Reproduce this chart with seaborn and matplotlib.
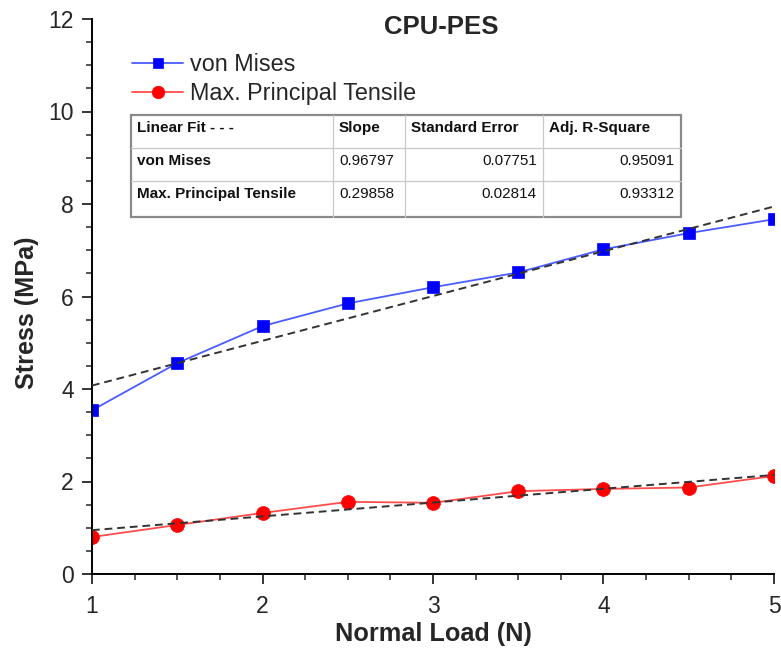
import numpy as np
import pandas as pd
import matplotlib
matplotlib.use("Agg")
import matplotlib.pyplot as plt
from matplotlib.ticker import MultipleLocator
from matplotlib.patches import Rectangle
import seaborn as sns

# Normal load (N) and measured stresses (MPa)
load = [1.0, 1.5, 2.0, 2.5, 3.0, 3.5, 4.0, 4.5, 5.0]
von_mises = [3.54, 4.56, 5.36, 5.85, 6.20, 6.52, 7.02, 7.37, 7.67]
max_principal = [0.80, 1.06, 1.32, 1.56, 1.54, 1.79, 1.84, 1.87, 2.12]

# Linear fit summary
fit_header = ["Linear Fit - - -", "Slope", "Standard Error", "Adj. R-Square"]
fit_names = ["von Mises", "Max. Principal Tensile"]
fit_slope = [0.96797, 0.29858]
fit_stderr = [0.07751, 0.02814]
fit_r2 = [0.95091, 0.93312]

sns.set_style("ticks")
plt.rcParams["font.family"] = ["Liberation Sans", "DejaVu Sans"]

fig = plt.figure(figsize=(7.81, 6.48), dpi=100)
ax = fig.add_axes([92 / 781, 74 / 648, 682 / 781, 555 / 648])

df = pd.DataFrame({"load": load, "vm": von_mises, "mp": max_principal})

sns.lineplot(data=df, x="load", y="vm", ax=ax, color="#4a5cff", lw=1.3,
             marker="s", markersize=8.5, markerfacecolor="#0000ff",
             markeredgecolor="#0000ff", markeredgewidth=0.5, label="von Mises")
sns.lineplot(data=df, x="load", y="mp", ax=ax, color="#ff4d4d", lw=1.3,
             marker="o", markersize=10, markerfacecolor="#ff0000",
             markeredgecolor="#ff0000", markeredgewidth=0.5,
             label="Max. Principal Tensile")

# Fitted lines drawn from the tabulated slopes through the data centroid
xs = np.array([1.0, 5.0])
x_arr = np.array(load)
for ys, slope in zip([von_mises, max_principal], fit_slope):
    y_arr = np.array(ys)
    intercept = y_arr.mean() - slope * x_arr.mean()
    ax.plot(xs, intercept + slope * xs, color="#333333", lw=1.4,
            ls=(0, (4, 2.5)), zorder=3)

ax.set_xlim(1, 5)
ax.set_ylim(0, 12)
ax.xaxis.set_major_locator(MultipleLocator(1))
ax.xaxis.set_minor_locator(MultipleLocator(0.25))
ax.yaxis.set_major_locator(MultipleLocator(2))
ax.yaxis.set_minor_locator(MultipleLocator(1 / 2))
ax.tick_params(which="major", direction="out", length=7, width=1.3,
               labelsize=16.5, pad=6)
ax.tick_params(axis="x", which="major", pad=8)
ax.tick_params(which="minor", direction="out", length=4, width=1.1)
for side in ["top", "right"]:
    ax.spines[side].set_visible(False)
for side in ["left", "bottom"]:
    ax.spines[side].set_linewidth(1.4)
    ax.spines[side].set_color("black")

ax.set_xlabel("Normal Load (N)", fontsize=18.2, fontweight="bold", labelpad=3)
ax.set_ylabel("Stress (MPa)", fontsize=18.2, fontweight="bold")
ax.yaxis.set_label_coords(-0.077, (574 - 313) / 555)
fig.text(441 / 781, 1 - 27 / 648, "CPU-PES", ha="center", va="center",
         fontsize=18.5, fontweight="bold")

leg = ax.legend(loc="upper left", bbox_to_anchor=(0.045, 0.955), frameon=False,
                fontsize=16.8, handlelength=2.2, handletextpad=0.3,
                labelspacing=0.25, borderaxespad=0, markerscale=0.9)

# Fit summary table (pixel layout converted to axes fractions)
def ax_x(px):
    return (px - 92) / 682

def ax_y(py):
    return (574 - py) / 555

col_edges = [131, 333, 405, 543, 681]
row_edges = [115, 148, 181, 217]
tr = ax.transAxes
ax.add_patch(Rectangle((ax_x(131), ax_y(217)), ax_x(681) - ax_x(131),
                       ax_y(115) - ax_y(217), transform=tr, facecolor="white",
                       edgecolor="#8a8a8a", lw=1.6, zorder=5))
for cx in col_edges[1:-1]:
    ax.plot([ax_x(cx)] * 2, [ax_y(115), ax_y(217)], transform=tr,
            color="#c8c8c8", lw=0.9, zorder=6)
for ry in row_edges[1:-1]:
    ax.plot([ax_x(131), ax_x(681)], [ax_y(ry)] * 2, transform=tr,
            color="#c8c8c8", lw=0.9, zorder=6)

rows = [fit_header] + [
    [n, f"{s:.5f}", f"{e:.5f}", f"{r:.5f}"]
    for n, s, e, r in zip(fit_names, fit_slope, fit_stderr, fit_r2)
]
for i, row in enumerate(rows):
    ty = ax_y(row_edges[i] + 13)
    for j, txt in enumerate(row):
        bold = i == 0 or j == 0
        if i > 0 and j >= 2:
            tx, ha = ax_x(col_edges[j + 1] - 6), "right"
        else:
            tx, ha = ax_x(col_edges[j] + 6), "left"
        ax.text(tx, ty, txt, transform=tr, ha=ha, va="center", fontsize=11,
                fontweight="bold" if bold else "normal", color="#111111",
                zorder=7)

fig.savefig("out.png", dpi=100)
